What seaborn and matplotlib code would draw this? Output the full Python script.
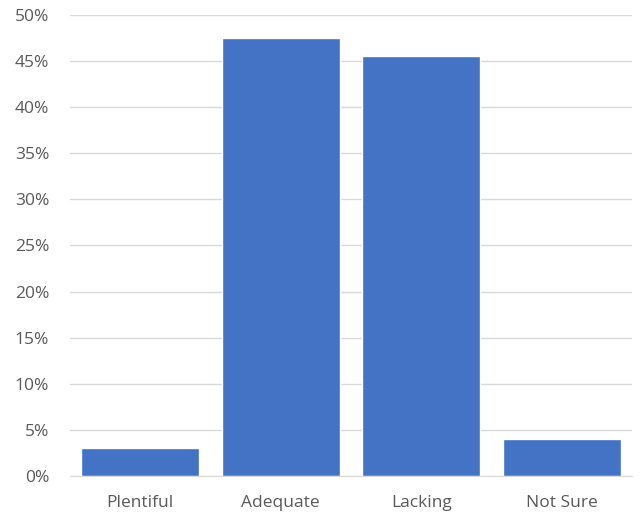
import matplotlib
matplotlib.use("Agg")
import matplotlib.pyplot as plt
from matplotlib.ticker import PercentFormatter, MultipleLocator
import seaborn as sns
import pandas as pd

categories = ["Plentiful", "Adequate", "Lacking", "Not Sure"]
shares = [3.0, 47.5, 45.5, 4.0]

sns.set_style("white")
plt.rcParams["font.family"] = ["Open Sans", "DejaVu Sans"]

df = pd.DataFrame({"category": categories, "share": shares})

fig = plt.figure(figsize=(6.41, 5.16), dpi=100)
ax = fig.add_axes([70 / 641, 1 - 476 / 516, 562 / 641, 461 / 516])

sns.barplot(data=df, x="category", y="share", color="#4472C4", saturation=1,
            width=0.84, ax=ax, zorder=3)

ax.set_ylim(0, 50)
ax.set_xlim(-0.5, 3.5)
ax.yaxis.set_major_locator(MultipleLocator(5))
ax.yaxis.set_major_formatter(PercentFormatter(decimals=0))
ax.grid(axis="y", color="#D9D9D9", linewidth=1, zorder=0)
ax.set_axisbelow(True)
for s in ["top", "right", "left"]:
    ax.spines[s].set_visible(False)
ax.spines["bottom"].set_color("#D9D9D9")
ax.spines["bottom"].set_zorder(4)
ax.tick_params(axis="both", length=0, labelsize=12.5, colors="#595959")
ax.tick_params(axis="y", pad=15)
ax.tick_params(axis="x", pad=14)
ax.set_xlabel("")
ax.set_ylabel("")

fig.savefig("out.png", dpi=100)
